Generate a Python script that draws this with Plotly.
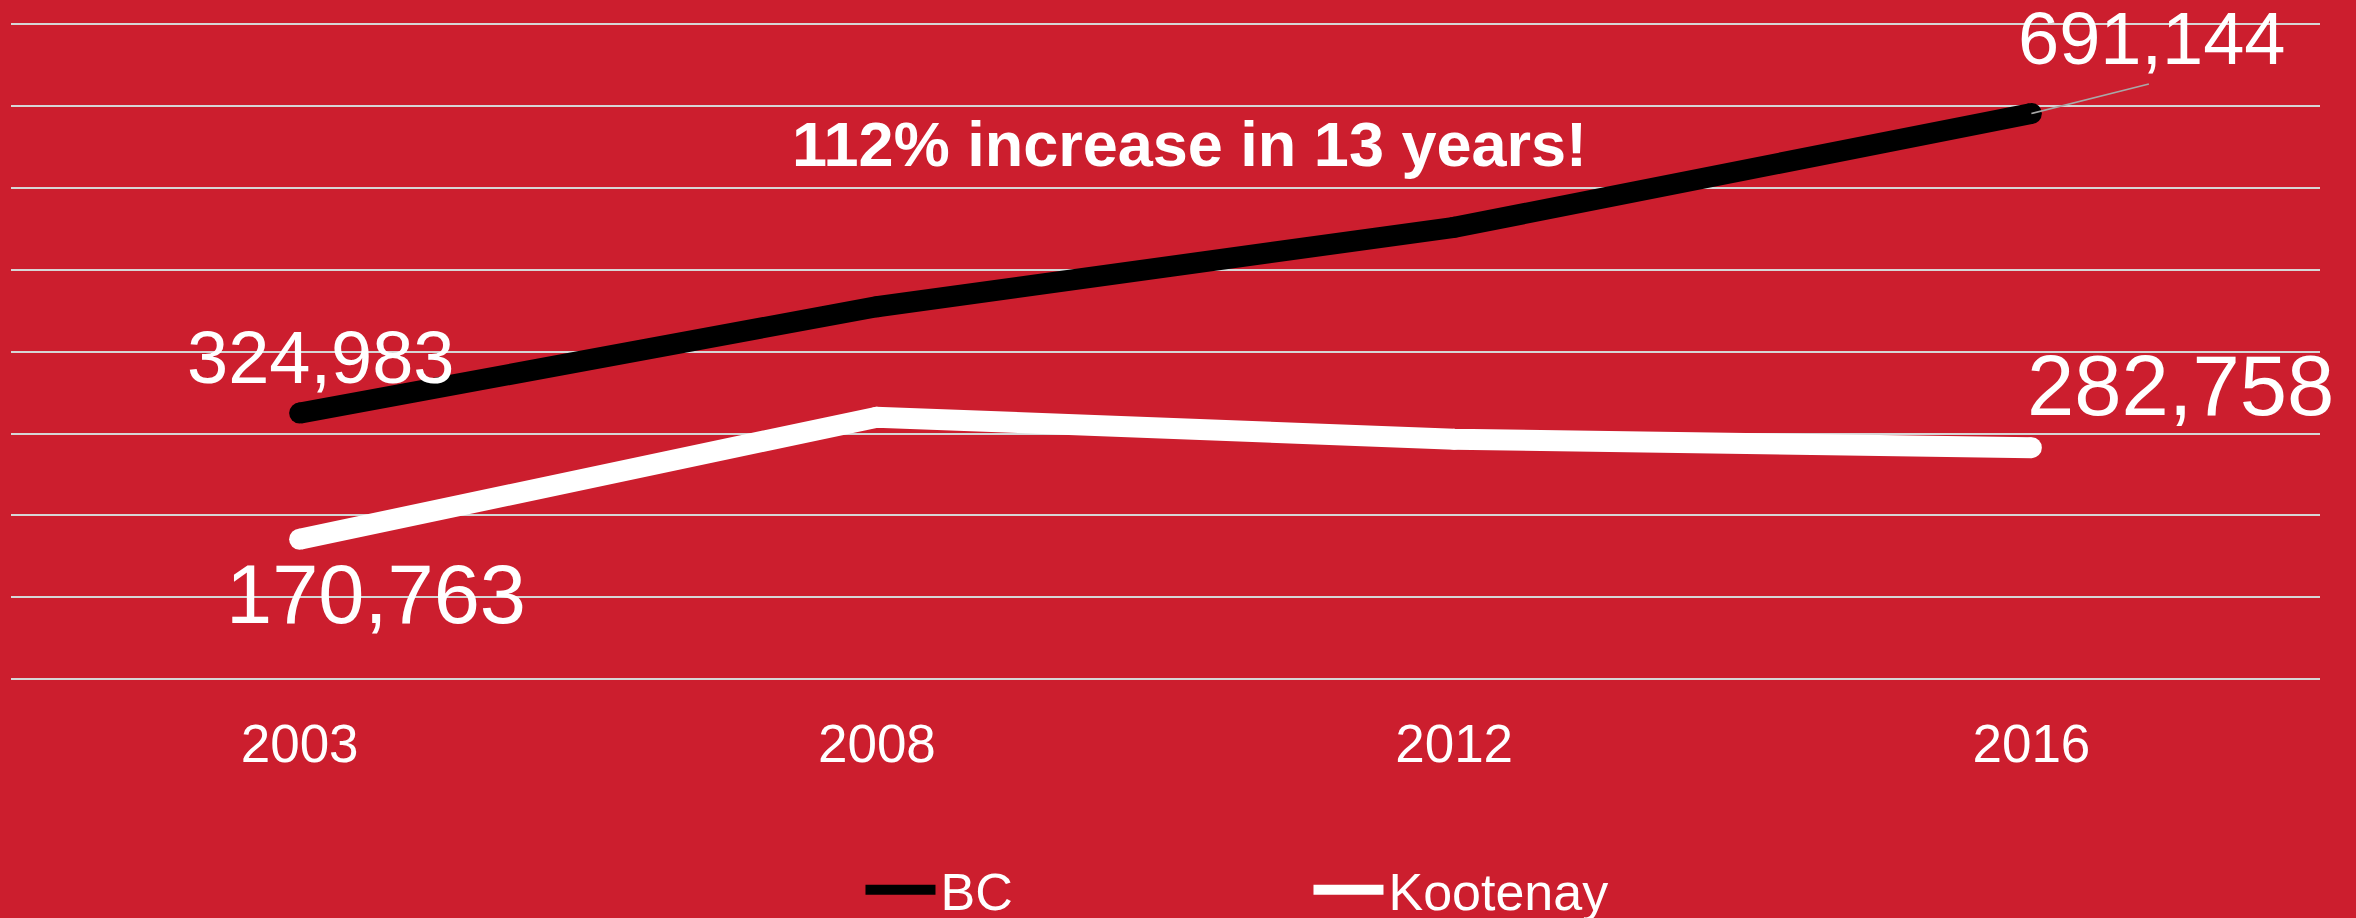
"""
Gráfico de linhas: BC vs Kootenay (2003-2016)
"""
import plotly.graph_objects as go

# dados
ANOS = ['2003', '2008', '2012', '2016']
BC = [324983, 455000, 552000, 691144]
KOOTENAY = [170763, 320000, 293000, 282758]

FONTE = 'Arial, Liberation Sans, sans-serif'
FUNDO = '#CC1E2E'
GRADE = '#D6D6D6'
ESPESSURA = 21


def add_series(fig, y, name, color):
    # linha (aparece na legenda) + marcadores que fazem as pontas arredondadas
    fig.add_trace(go.Scatter(
        x=ANOS, y=y, name=name, mode='lines',
        line=dict(color=color, width=ESPESSURA),
        cliponaxis=False, hoverinfo='skip'
    ))
    fig.add_trace(go.Scatter(
        x=ANOS, y=y, name=name, mode='markers', showlegend=False,
        marker=dict(color=color, size=ESPESSURA, line=dict(width=0)),
        cliponaxis=False, hoverinfo='skip'
    ))


def create_line_chart():
    fig = go.Figure()
    add_series(fig, BC, 'BC', 'black')
    add_series(fig, KOOTENAY, 'Kootenay', 'white')

    # no eixo de categorias a posição é o índice (anos como texto viram índice)
    primeiro, ultimo = 0, len(ANOS) - 1

    # rótulos dos valores
    fig.add_annotation(x=primeiro, y=BC[0], text=f'{BC[0]:,}', showarrow=False,
                       xshift=21, yshift=56, font=dict(size=74, color='white', family=FONTE))
    fig.add_annotation(x=primeiro, y=KOOTENAY[0], text=f'{KOOTENAY[0]:,}', showarrow=False,
                       xshift=76, yshift=-55, font=dict(size=83, color='white', family=FONTE))
    fig.add_annotation(x=ultimo, y=BC[-1], text=f'{BC[-1]:,}', showarrow=False,
                       xshift=121, yshift=75, font=dict(size=74, color='white', family=FONTE))
    fig.add_annotation(x=ultimo, y=KOOTENAY[-1], text=f'{KOOTENAY[-1]:,}', showarrow=False,
                       xshift=149, yshift=62, font=dict(size=85, color='white', family=FONTE))
    # linha de chamada do 691,144
    fig.add_annotation(x=ultimo, y=BC[-1], text='', showarrow=True,
                       ax=119, ay=-30, arrowhead=0, arrowwidth=1.5,
                       arrowcolor='#A8A8A8', standoff=0)

    fig.add_annotation(xref='paper', yref='paper', x=0.5106, y=0.815,
                       xanchor='center', yanchor='middle',
                       text='<b>112% increase in 13 years!</b>', showarrow=False,
                       font=dict(size=63, color='white', family=FONTE))

    fig.update_layout(
        width=2356, height=918,
        paper_bgcolor=FUNDO, plot_bgcolor=FUNDO,
        margin=dict(l=11, r=36, t=22, b=239, autoexpand=False),
        font=dict(family=FONTE, color='white'),
        showlegend=True,
        legend=dict(
            orientation='h', x=0.3679, xanchor='left', y=-0.321, yanchor='middle',
            font=dict(size=52, color='white', family=FONTE),
            itemwidth=70, entrywidth=363, bgcolor='rgba(0,0,0,0)'
        ),
        xaxis=dict(
            type='category', range=[-0.5, len(ANOS) - 0.5], autorange=False,
            showgrid=False, zeroline=False, showline=False,
            ticks='outside', ticklen=18, tickcolor=FUNDO,
            tickfont=dict(size=53, color='white', family=FONTE)
        ),
        yaxis=dict(
            range=[0, 803000], autorange=False, tickvals=[i * 100000 for i in range(9)],
            showgrid=True, gridcolor=GRADE, gridwidth=2,
            zeroline=True, zerolinecolor=GRADE, zerolinewidth=2,
            showticklabels=False, showline=False
        )
    )
    return fig


fig = create_line_chart()
fig.write_html("out.html", config={'displayModeBar': False},
               post_script="document.body.style.margin='0';")
